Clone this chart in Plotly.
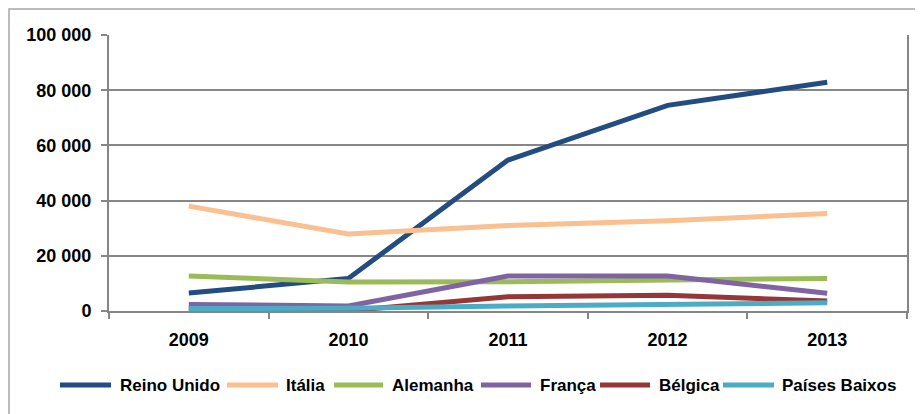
import plotly.graph_objects as go

anos = ["2009", "2010", "2011", "2012", "2013"]
reino_unido = [6500, 11800, 54700, 74500, 82900]
italia = [38000, 27900, 31000, 32700, 35300]
alemanha = [12700, 10500, 10600, 11200, 11800]
franca = [2400, 1800, 12700, 12700, 6400]
belgica = [800, 100, 5200, 5700, 3600]
paises_baixos = [900, 1000, 1800, 2300, 3000]

nomes = ["Reino Unido", "Itália", "Alemanha", "França", "Bélgica", "Países Baixos"]
valores = [reino_unido, italia, alemanha, franca, belgica, paises_baixos]
cores = ["#234C80", "#FAC090", "#9BBB59", "#8064A2", "#953735", "#4BACC6"]

FONT = "Liberation Sans, Arial"

fig = go.Figure()
for name, vals, col in zip(nomes, valores, cores):
    fig.add_trace(go.Scatter(x=anos, y=vals, name=name, mode="lines",
                             line=dict(color=col, width=5), showlegend=False))

# page body has an 8px offset; figure is sized to the visible area
OFF = 8
W, H = 923 - OFF, 414 - OFF
L, T = 109 - OFF, 35 - OFF
R = W - (907 - OFF)
B = H - (311 - OFF)
pw, ph = W - L - R, H - T - B


def px(xpix):
    return (xpix - OFF - L) / pw


def py(ypix):
    return (H - B - (ypix - OFF)) / ph


# custom legend layout (screen pixels): symbol start, symbol end, text start
leg_slots = [(58, 113, 118), (225, 280, 284), (332, 385, 390),
             (479, 533, 538), (598, 652, 657), (721, 776, 780)]
leg_ypix = 385

shapes = [dict(type="rect", xref="paper", yref="paper",
               x0=px(OFF + 1), x1=px(940), y0=py(440), y1=py(OFF + 1),
               line=dict(color="#A6A6A6", width=1.5), layer="below")]
annotations = []
for (s0, s1, t0), name, col in zip(leg_slots, nomes, cores):
    shapes.append(dict(type="line", xref="paper", yref="paper",
                       x0=px(s0 + 2), x1=px(s1 - 2), y0=py(leg_ypix), y1=py(leg_ypix),
                       line=dict(color=col, width=5)))
    annotations.append(dict(xref="paper", yref="paper", x=px(t0), y=py(leg_ypix),
                            xanchor="left", yanchor="middle", showarrow=False,
                            text=name, xshift=0,
                            font=dict(family=FONT, size=17, color="black",
                                      weight="bold")))

fig.update_layout(
    width=W, height=H,
    margin=dict(l=L, r=R, t=T, b=B, autoexpand=False),
    paper_bgcolor="white", plot_bgcolor="white",
    separators=", ",
    font=dict(family=FONT, size=16, color="black"),
    showlegend=False,
    xaxis=dict(type="category", tickson="boundaries", ticks="outside", ticklen=6,
               tickcolor="#868686", tickwidth=2, showline=True, linecolor="#868686",
               linewidth=2, showgrid=False, automargin=False, ticklabelstandoff=11,
               tickfont=dict(family=FONT, size=18, weight="bold"),
               range=[-0.5, 4.5]),
    yaxis=dict(range=[0, 100000], dtick=20000, tickformat=",d", ticks="outside",
               ticklen=6, tickcolor="#868686", tickwidth=2, showline=True,
               linecolor="#868686", linewidth=2, mirror=True, showgrid=True,
               gridcolor="#868686", gridwidth=1.5, automargin=False,
               ticklabelstandoff=6,
               tickfont=dict(family=FONT, size=18, weight="bold"),
               zeroline=False),
    shapes=shapes,
    annotations=annotations,
)

fig.write_html("out.html")
